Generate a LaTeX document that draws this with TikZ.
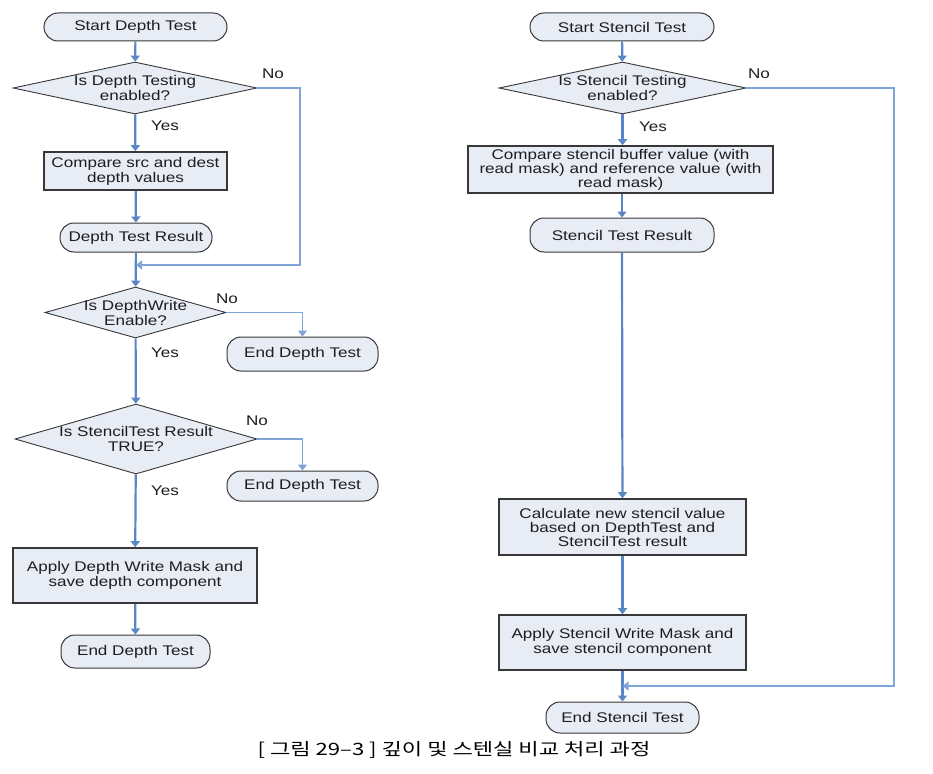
\documentclass[tikz,border=0pt]{standalone}
\usepackage{fontspec}
\usetikzlibrary{shapes.geometric,arrows.meta}
\newfontfamily\labfont[FakeStretch=1.22]{Liberation Sans}
\newfontfamily\krfont[FakeStretch=1.3]{Noto Sans CJK KR}
\definecolor{boxfill}{HTML}{E8ECF5}
\definecolor{boxline}{HTML}{383838}
\definecolor{conn}{HTML}{5A86C6}
\definecolor{connlight}{HTML}{7FA5D6}
\definecolor{txt}{HTML}{1E1E1E}
\tikzset{
  base/.style={fill=boxfill, draw=boxline, font=\labfont\fontsize{14}{15}\selectfont, text=txt, align=center, inner sep=0pt},
  term/.style={base, rectangle, rounded corners=14pt, line width=1pt},
  proc/.style={base, rectangle, line width=1.6pt},
  dia/.style={base, diamond, line width=0.9pt},
  dtext/.style={font=\labfont\fontsize{14}{15}\selectfont, text=txt, align=center, inner sep=0pt},
  lab/.style={font=\labfont\fontsize{14}{15}\selectfont, text=txt, inner sep=0pt},
  flow/.style={draw=conn, line width=2.2pt, -{Triangle[width=9pt,length=6pt]}},
  side/.style={draw=connlight, line width=1.4pt, -{Triangle[width=9pt,length=6pt]}},
}
\begin{document}
\begin{tikzpicture}[x=1pt,y=-1pt]
\useasboundingbox[fill=white] (0,0) rectangle (933,773);
% left column
\node[term, minimum width=183, minimum height=28] (s1) at (135.5,27) {Start Depth Test};
\node[dia, minimum width=244, minimum height=52] (d1) at (135,88) {};
\node[dtext] at (d1) {Is Depth Testing\\enabled?};
\node[proc, minimum width=183, minimum height=38] (c1) at (135.5,171) {Compare src and dest\\depth values};
\node[term, minimum width=152, minimum height=29] (r1) at (136,237.5) {Depth Test Result};
\coordinate (m1) at (136,265);
\node[dia, minimum width=181, minimum height=51] (d2) at (135.5,312.5) {};
\node[dtext] at (d2) {Is DepthWrite\\Enable?};
\node[term, minimum width=151, minimum height=34] (e1) at (302.5,354) {End Depth Test};
\node[dia, minimum width=242, minimum height=70] (d3) at (136,439) {};
\node[dtext] at (d3) {Is StencilTest Result\\TRUE?};
\node[term, minimum width=151, minimum height=30] (e2) at (302.5,486) {End Depth Test};
\node[proc, minimum width=244, minimum height=55] (a1) at (135,575.5) {Apply Depth Write Mask and\\save depth component};
\node[term, minimum width=149, minimum height=33] (e3) at (135.5,651.5) {End Depth Test};
% right column
\node[term, minimum width=184, minimum height=28] (s2) at (622,27) {Start Stencil Test};
\node[dia, minimum width=247, minimum height=52] (d4) at (622.5,88) {};
\node[dtext] at (d4) {Is Stencil Testing\\enabled?};
\node[proc, minimum width=305, minimum height=47, font=\labfont\fontsize{14}{14}\selectfont] (c2) at (620.5,169.5) {Compare stencil buffer value (with\\read mask) and reference value (with\\read mask)};
\node[term, minimum width=184, minimum height=34] (r2) at (622,235) {Stencil Test Result};
\node[proc, minimum width=247, minimum height=56, font=\labfont\fontsize{14}{14}\selectfont] (k2) at (622.5,527) {Calculate new stencil value\\based on DepthTest and\\StencilTest result};
\node[proc, minimum width=247, minimum height=55] (a2) at (622.5,642.5) {Apply Stencil Write Mask and\\save stencil component};
\coordinate (m2) at (622.5,686);
\node[term, minimum width=153, minimum height=31] (e4) at (622.5,717.5) {End Stencil Test};
% connectors left
\draw[flow] (s1) -- (d1);
\draw[flow] (d1) -- (c1);
\draw[flow] (c1) -- (r1);
\draw[flow] (r1) -- (d2);
\draw[side] (d1.east) -- (300,88) -- (300,265) -- (m1);
\draw[side] (d2.east) -- (302.5,312.5) -- (e1.north);
\draw[flow] (d2) -- (d3);
\draw[side] (d3.east) -- (302.5,439) -- (e2.north);
\draw[flow] (d3) -- (a1);
\draw[flow] (a1) -- (e3);
% connectors right
\draw[flow] (s2) -- (d4);
\draw[flow] (d4) -- (d4|-c2.north);
\draw[flow] (c2.south-|r2) -- (r2);
\draw[flow] (r2.south) -- (k2);
\draw[flow] (k2) -- (a2);
\draw[flow] (a2) -- (e4);
\draw[side] (d4.east) -- (894,88) -- (894,686) -- (m2);
% labels
\node[lab] at (273,74) {No};
\node[lab] at (165,126) {Yes};
\node[lab] at (227,299) {No};
\node[lab] at (165,353) {Yes};
\node[lab] at (257,421) {No};
\node[lab] at (165,491) {Yes};
\node[lab] at (759,74) {No};
\node[lab] at (653,127) {Yes};
% caption
\node[font=\krfont\fontsize{17}{19}\selectfont, inner sep=0pt] (cap) at (454,750) {[ 그림 29–3 ] 깊이 및 스텐실 비교 처리 과정};
\end{tikzpicture}
\end{document}
